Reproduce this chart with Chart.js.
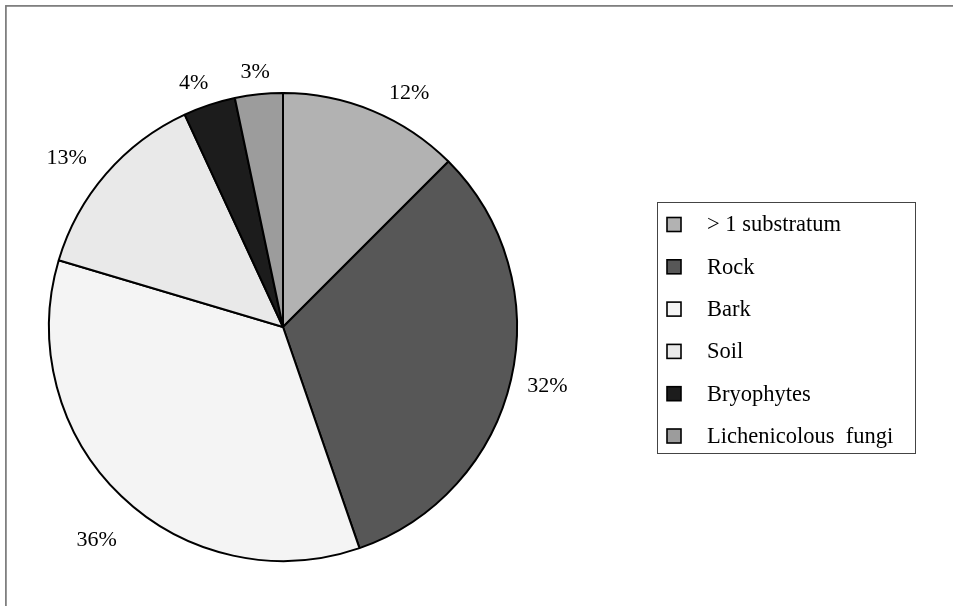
<!DOCTYPE html>
<html>
<head>
<meta charset="utf-8">
<script src="https://cdn.jsdelivr.net/npm/chart.js@4"></script>
<style>
  body { margin: 0; background: #fff; }
  #chart-box { width: 953px; height: 606px; }
</style>
</head>
<body>
<div id="chart-box"><canvas id="substrate-chart" width="953" height="606"></canvas></div>
<script>
let categories = ['> 1 substratum', 'Rock', 'Bark', 'Soil', 'Bryophytes', 'Lichenicolous  fungi'];
let sliceValues = [12.5, 32.2, 34.9, 13.5, 3.6, 3.3];
let pctLabels = ['12%', '32%', '36%', '13%', '4%', '3%'];
let sliceColors = ['#b2b2b2', '#575757', '#f4f4f4', '#e9e9e9', '#1c1c1c', '#9c9c9c'];

// small nudges so labels sit where the original ones do
let labelNudge = [[25, 11], [0, -2], [0, 19], [-12, 8], [-7, 5], [-1, 3]];

let serif = '"Liberation Serif", "DejaVu Serif", serif';

let framePlugin = {
    id: 'frame',
    beforeDraw: function (chart) {
        let ctx = chart.ctx;
        ctx.save();
        ctx.fillStyle = '#fff';
        ctx.fillRect(0, 0, chart.width, chart.height);
        ctx.strokeStyle = '#7a7a7a';
        ctx.lineWidth = 1.7;
        ctx.strokeRect(5.9, 5.9, 2000, 2000);
        ctx.restore();
    }
};

let pctLabelPlugin = {
    id: 'pctLabels',
    afterDatasetsDraw: function (chart) {
        let ctx = chart.ctx;
        let meta = chart.getDatasetMeta(0);
        ctx.save();
        ctx.font = '22px ' + serif;
        ctx.fillStyle = '#000';
        ctx.textAlign = 'center';
        ctx.textBaseline = 'middle';
        meta.data.forEach(function (arc, i) {
            let p = arc.getProps(['x', 'y', 'startAngle', 'endAngle', 'outerRadius'], true);
            let mid = (p.startAngle + p.endAngle) / 2;
            let cx = Math.cos(mid), cy = Math.sin(mid);
            let w = ctx.measureText(pctLabels[i]).width, h = 15;
            let d = p.outerRadius + 16 + Math.abs(cx) * w / 2 + Math.abs(cy) * h / 2;
            ctx.fillText(pctLabels[i], p.x + cx * d + labelNudge[i][0], p.y + cy * d + labelNudge[i][1]);
        });
        ctx.restore();
    }
};

let boxLegendPlugin = {
    id: 'boxLegend',
    afterDraw: function (chart) {
        let ctx = chart.ctx;
        let left = 657, top = 202, width = 258, height = 251;
        let rowGap = 42.3, firstRow = 224.5;
        ctx.save();
        ctx.strokeStyle = '#444';
        ctx.lineWidth = 1;
        ctx.strokeRect(left + 0.5, top + 0.5, width, height);
        ctx.font = '22.5px ' + serif;
        ctx.textBaseline = 'middle';
        chart.data.labels.forEach(function (lbl, i) {
            let y = firstRow + i * rowGap;
            ctx.fillStyle = chart.data.datasets[0].backgroundColor[i];
            ctx.fillRect(667, y - 7, 14, 14);
            ctx.strokeStyle = '#000';
            ctx.lineWidth = 1.6;
            ctx.strokeRect(667, y - 7, 14, 14);
            ctx.fillStyle = '#000';
            ctx.fillText(lbl, 707, y + 1);
        });
        ctx.restore();
    }
};

window.onload = function () {
    let ctx = document.getElementById('substrate-chart').getContext('2d');
    let substrateChart = new Chart(ctx, {
        type: 'pie',
        data: {
            labels: categories,
            datasets: [{
                data: sliceValues,
                backgroundColor: sliceColors,
                borderColor: '#000',
                borderWidth: 2
            }]
        },
        options: {
            responsive: false,
            animation: false,
            layout: {
                padding: { left: 48, top: 92, right: 435, bottom: 44 }
            },
            plugins: {
                legend: { display: false },
                tooltip: { enabled: false }
            }
        },
        plugins: [framePlugin, pctLabelPlugin, boxLegendPlugin]
    });
};
</script>
</body>
</html>
